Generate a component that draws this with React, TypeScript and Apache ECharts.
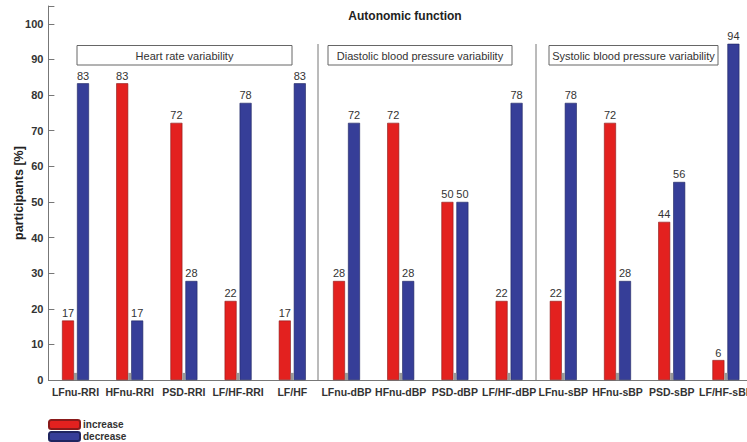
import React, { useEffect, useRef } from "react";
import * as echarts from "echarts";

const categories = [
  "LFnu-RRI", "HFnu-RRI", "PSD-RRI", "LF/HF-RRI", "LF/HF",
  "LFnu-dBP", "HFnu-dBP", "PSD-dBP", "LF/HF-dBP",
  "LFnu-sBP", "HFnu-sBP", "PSD-sBP", "LF/HF-sBP",
];
const increase = [16.7, 83.3, 72.2, 22.2, 16.7, 27.8, 72.2, 50, 22.2, 22.2, 72.2, 44.4, 5.6];
const decrease = [83.3, 16.7, 27.8, 77.8, 83.3, 72.2, 27.8, 50, 77.8, 77.8, 27.8, 55.6, 94.4];
const yTicks = [0, 10, 20, 30, 40, 50, 60, 70, 80, 90, 100];
const groups = [
  { name: "Heart rate variability", x0: 77, x1: 292 },
  { name: "Diastolic blood pressure variability", x0: 328, x1: 512 },
  { name: "Systolic blood pressure variability", x0: 549, x1: 718 },
];
const separators = [318, 536];
const yAxisName = "participants [%]";

const FONT = "Liberation Sans, Arial, sans-serif";

export default function App() {
  const ref = useRef<HTMLDivElement>(null);
  useEffect(() => {
    if (!ref.current) return;
    const chart = echarts.init(ref.current, undefined, { renderer: "svg" });
    const label = {
      show: true,
      position: "top" as const,
      distance: 2,
      fontSize: 11,
      fontFamily: FONT,
      color: "#333",
      formatter: (p: any) => String(Math.round(p.value)),
    };
    const graphics: any[] = [];
    groups.forEach((g) => {
      graphics.push({
        type: "rect",
        shape: { x: g.x0, y: 45.5, width: g.x1 - g.x0, height: 19.5 },
        style: { fill: "#fff", stroke: "#666", lineWidth: 1 },
        z: 10,
      });
      graphics.push({
        type: "text",
        x: (g.x0 + g.x1) / 2,
        y: 55.5,
        style: {
          text: g.name,
          fontSize: 11,
          fontFamily: FONT,
          fill: "#333",
          align: "center",
          verticalAlign: "middle",
        },
        z: 11,
      });
    });
    separators.forEach((x) => {
      graphics.push({
        type: "line",
        shape: { x1: x, y1: 44, x2: x, y2: 380 },
        style: { stroke: "#777", lineWidth: 1 },
        z: 10,
      });
    });
    graphics.push({
      type: "text",
      x: 19,
      y: 193,
      rotation: Math.PI / 2,
      style: {
        text: yAxisName,
        fontSize: 12.5,
        fontWeight: "bold",
        fontFamily: FONT,
        fill: "#222",
        align: "center",
        verticalAlign: "middle",
      },
      z: 11,
    });
    const xFont = { fontSize: 10.5, fontWeight: "bold", fontFamily: FONT, color: "#333" };
    const option: any = {
      animation: false,
      backgroundColor: "#fff",
      title: {
        text: "Autonomic function",
        left: 400,
        top: 5,
        textAlign: "center",
        textStyle: { fontSize: 12, fontWeight: "bold", fontFamily: FONT, color: "#222" },
      },
      legend: {
        orient: "vertical",
        left: 48,
        top: 419,
        height: 40,
        itemWidth: 31,
        itemHeight: 9,
        itemGap: 1,
        padding: 0,
        textStyle: {
          fontSize: 10,
          lineHeight: 9,
          fontWeight: "bold",
          fontFamily: FONT,
          color: "#333",
          padding: [0, 0, 0, -2],
        },
        data: ["increase", "decrease"],
      },
      grid: {
        left: 48.4,
        right: -6,
        top: 6,
        bottom: 62,
        containLabel: false,
        outerBoundsMode: "none",
      },
      xAxis: {
        type: "category",
        data: categories,
        axisLine: { lineStyle: { color: "#777" } },
        axisTick: { show: false },
        axisLabel: {
          ...xFont,
          margin: 6,
          interval: 0,
        },
      },
      yAxis: {
        type: "value",
        min: 0,
        max: 105,
        interval: 10,
        splitLine: { show: false },
        axisLine: { show: true, lineStyle: { color: "#777" } },
        axisTick: { show: true, inside: true, length: 6, lineStyle: { color: "#777" } },
        axisLabel: {
          fontSize: 11,
          fontWeight: "bold",
          fontFamily: FONT,
          color: "#333",
          margin: 5,
          formatter: (v: number) => (yTicks.includes(v) ? String(v) : ""),
        },
      },
      series: [
        {
          name: "increase",
          type: "bar",
          data: increase,
          barWidth: 12,
          barGap: "25%",
          itemStyle: { color: "#e3211f", borderColor: "#8a1a1a", borderWidth: 0.6 },
          label,
        },
        {
          name: "decrease",
          type: "bar",
          data: decrease,
          barWidth: 12,
          barGap: "25%",
          itemStyle: { color: "#363e98", borderColor: "#1f2560", borderWidth: 0.6 },
          label,
        },
      ],
      graphic: graphics,
    };
    chart.setOption(option);
    const base = chart.convertToPixel({ yAxisIndex: 0 }, 0) as number;
    const stubTop = chart.convertToPixel({ yAxisIndex: 0 }, 2) as number;
    const stubs = categories.map((c) => {
      const cx = chart.convertToPixel({ xAxisIndex: 0 }, c) as number;
      return {
        type: "rect",
        shape: { x: cx - 1.5, y: stubTop, width: 3, height: base - stubTop },
        style: { fill: "#999" },
        z: 5,
      };
    });
    chart.setOption({ graphic: graphics.concat(stubs) });
    return () => chart.dispose();
  }, []);
  return (
    <div
      ref={ref}
      style={{ position: "absolute", left: 0, top: 0, width: 747, height: 442 }}
    />
  );
}
